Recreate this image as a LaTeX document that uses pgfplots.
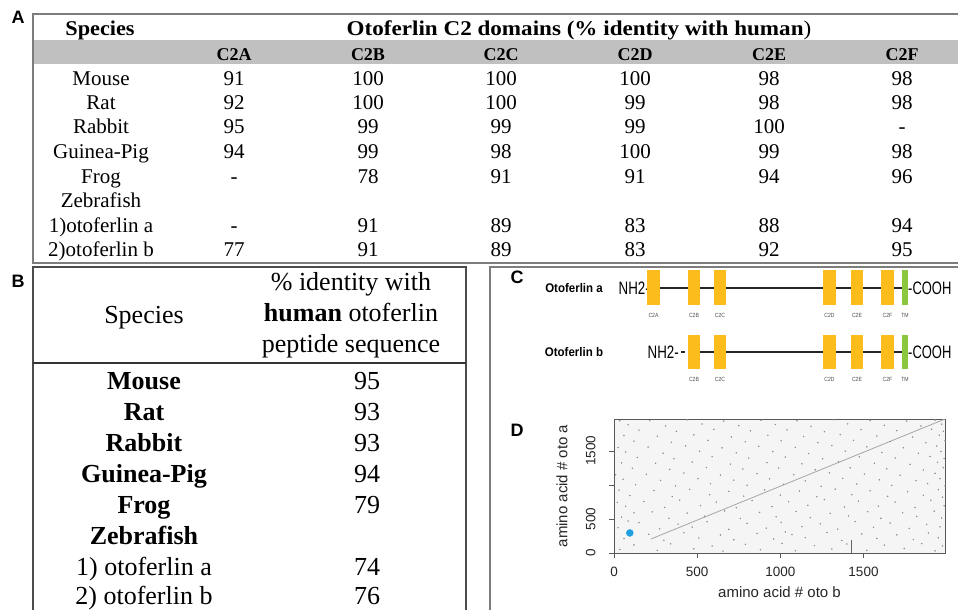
\documentclass[border=0pt]{standalone}
\usepackage{fontspec}
\setmainfont{Liberation Serif}
\newfontfamily\sansf{Liberation Sans}
\usepackage{pgfplots}
\pgfplotsset{compat=1.18}
\usepackage{graphicx}
\definecolor{dom}{RGB}{252,188,27}
\definecolor{tmc}{RGB}{141,198,63}
\definecolor{band}{RGB}{192,192,192}
\definecolor{frame}{RGB}{125,125,125}
\definecolor{dotblue}{RGB}{30,160,225}
\newcommand\fs[1]{\fontsize{#1}{#1}\selectfont}
\begin{document}
\begin{tikzpicture}
\useasboundingbox (0pt,0pt) rectangle (958pt,-610pt);
\begin{scope}[x=1pt,y=-1pt]
% ---------- Panel A ----------
\fill[band] (34,40) rectangle (958,64);
\draw[frame, line width=1.5pt] (958,14) -- (33,14) -- (33,263) -- (958,263);
\node[font={\fs{18}\sansf\bfseries}] at (18,17) {A};
\node[font={\fs{21}\bfseries}, anchor=base] at (100,36) {\scalebox{1.06}[1]{Species}};
\node[font={\fs{21}}, anchor=base] at (579,36) {\scalebox{1.1}[1]{\textbf{Otoferlin C2 domains (\% identity with human})}};
\foreach \x/\c in {234/C2A,368/C2B,501/C2C,635/C2D,769/C2E,902/C2F}
  \node[font={\fs{18}\bfseries}, anchor=base] at (\x,60) {\c};
\foreach \y/\n/\a/\b/\c/\d/\e/\f in {
  85/Mouse/91/100/100/100/98/98,
  109/Rat/92/100/100/99/98/98,
  133/Rabbit/95/99/99/99/100/-,
  158/Guinea-Pig/94/99/98/100/99/98,
  183/Frog/-/78/91/91/94/96,
  232/1)otoferlin a/-/91/89/83/88/94,
  256/2)otoferlin b/77/91/89/83/92/95}{
  \node[font={\fs{21}}, anchor=base] at (101,\y) {\n};
  \node[font={\fs{21}}, anchor=base] at (234,\y) {\a};
  \node[font={\fs{21}}, anchor=base] at (368,\y) {\b};
  \node[font={\fs{21}}, anchor=base] at (501,\y) {\c};
  \node[font={\fs{21}}, anchor=base] at (635,\y) {\d};
  \node[font={\fs{21}}, anchor=base] at (769,\y) {\e};
  \node[font={\fs{21}}, anchor=base] at (902,\y) {\f};
}
\node[font={\fs{21}}, anchor=base] at (101,207) {Zebrafish};
% ---------- Panel B ----------
\draw[black!70, line width=1.3pt] (33,615) -- (33,267) -- (466,267) -- (466,615);
\draw[black!80, line width=1.2pt] (33,363) -- (466,363);
\node[font={\fs{18}\sansf\bfseries}] at (18,281) {B};
\node[font={\fs{26}}, anchor=base] at (144,323) {Species};
\node[font={\fs{26}}, anchor=base] at (351,290) {\% identity with};
\node[font={\fs{26}}, anchor=base] at (351,321) {\textbf{human} otoferlin};
\node[font={\fs{26}}, anchor=base] at (351,352) {peptide sequence};
\foreach \y/\n/\v in {389/Mouse/95, 420/Rat/93, 451/Rabbit/93, 482/Guinea-Pig/94, 513/Frog/79}{
  \node[font={\fs{26}\bfseries}, anchor=base] at (144,\y) {\n};
  \node[font={\fs{26}}, anchor=base] at (367,\y) {\v};
}
\node[font={\fs{26}\bfseries}, anchor=base] at (144,544) {Zebrafish};
\node[font={\fs{26}}, anchor=base] at (144,575) {1) otoferlin a};
\node[font={\fs{26}}, anchor=base] at (367,575) {74};
\node[font={\fs{26}}, anchor=base] at (144,604) {2) otoferlin b};
\node[font={\fs{26}}, anchor=base] at (367,604) {76};
% ---------- Panel C / D frame ----------
\draw[frame, line width=1.5pt] (490,615) -- (490,267) -- (960,267);
\node[font={\fs{18}\sansf\bfseries}] at (517,277) {C};
\node[font={\fs{18}\sansf\bfseries}] at (517,430) {D};
% Otoferlin a
\node[font={\fs{12.5}\sansf\bfseries}] at (574,288) {\scalebox{0.92}[1]{Otoferlin a}};
\node[anchor=east, inner sep=0pt, font={\fs{18}\sansf}] at (650,288) {\scalebox{0.74}[1]{NH2-}};
\draw[black!85, line width=1.3pt] (649,288) -- (908,288);
\foreach \l/\r in {647/660, 688/700, 714/726, 823/836, 851/863, 881/894}
  \fill[dom] (\l,270) rectangle (\r,305);
\fill[tmc] (902,270) rectangle (908,305);
\node[anchor=west, inner sep=0pt, font={\fs{18}\sansf}] at (908,288) {\scalebox{0.72}[1]{-COOH}};
\foreach \x/\t in {653.5/C2A, 694/C2B, 720/C2C, 829.5/C2D, 857/C2E, 887.5/C2F, 905/TM}
  \node[font={\fs{6}\sansf}, text=black!70] at (\x,315) {\scalebox{0.85}[1]{\t}};
% Otoferlin b
\node[font={\fs{12.5}\sansf\bfseries}] at (574,352) {\scalebox{0.92}[1]{Otoferlin b}};
\node[anchor=east, inner sep=0pt, font={\fs{18}\sansf}] at (679,352) {\scalebox{0.74}[1]{NH2-}};
\draw[black!85, line width=1.3pt] (681,352) -- (685,352);
\draw[black!85, line width=1.3pt] (688,352) -- (908,352);
\foreach \l/\r in {688/700, 714/726, 823/836, 851/863, 881/894}
  \fill[dom] (\l,335) rectangle (\r,369);
\fill[tmc] (902,335) rectangle (908,369);
\node[anchor=west, inner sep=0pt, font={\fs{18}\sansf}] at (908,352) {\scalebox{0.72}[1]{-COOH}};
\foreach \x/\t in {694/C2B, 720/C2C, 829.5/C2D, 857/C2E, 887.5/C2F, 905/TM}
  \node[font={\fs{6}\sansf}, text=black!70] at (\x,379) {\scalebox{0.85}[1]{\t}};
\end{scope}
% ---------- Panel D ----------
\begin{axis}[
  at={(614pt,-553pt)}, anchor=south west,
  scale only axis, width=331pt, height=134pt,
  xmin=0, xmax=1990, ymin=0, ymax=1970,
  axis background/.style={fill=black!4},
  axis line style={black!65, line width=0.8pt},
  xtick={0,500,1000,1500}, xticklabels={0,500,1000,1500},
  ytick={0,500,1000,1500}, yticklabels={0,500,,1500},
  xtick pos=left, ytick pos=left,
  tick align=outside, major tick length=5pt,
  tick style={black!65, line width=0.8pt},
  tick label style={font={\fs{13.5}\sansf}, text=black!85},
  yticklabel style={rotate=90, anchor=south},
  xticklabel shift=6pt, yticklabel shift=10pt,
  xlabel={amino acid \# oto b}, ylabel={amino acid \# oto a},
  label style={font={\fs{15}\sansf}, text=black!85},
  xlabel style={at={(axis description cs:0.5,-0.295)}, anchor=center},
  ylabel style={at={(axis description cs:-0.157,0.5)}, anchor=center},
]
\addplot[only marks, mark=*, mark size=0.5pt, color=black!45] coordinates {
(35,52) (260,38) (480,61) (655,27) (880,49) (1090,33) (1310,58) (1520,41) (1745,66) (1930,30)
(120,118) (340,135) (590,102) (790,127) (1010,141) (1205,109) (1400,132) (1625,115) (1850,138) (1975,104)
(60,212) (300,188) (510,221) (720,195) (960,207) (1150,226) (1370,184) (1580,214) (1800,199) (1950,223)
(210,276) (420,298) (640,265) (860,289) (1070,271) (1280,302) (1490,281) (1700,268) (1890,294) (1030,310)
(25,372) (275,355) (470,381) (690,349) (915,366) (1130,388) (1345,352) (1560,377) (1775,361) (1960,384)
(150,447) (385,425) (560,459) (800,436) (1005,452) (1240,428) (1450,463) (1660,440) (1880,421) (85,470)
(45,528) (330,512) (545,541) (760,507) (975,533) (1180,519) (1410,546) (1605,511) (1820,537) (1970,515)
(230,604) (440,587) (665,619) (875,596) (1095,611) (1300,583) (1525,608) (1735,592) (1925,615) (120,590)
(70,688) (305,671) (520,697) (735,666) (950,683) (1165,702) (1385,675) (1590,690) (1810,668) (1985,694)
(180,757) (395,778) (615,748) (830,771) (1050,754) (1265,785) (1470,762) (1690,750) (1905,776) (20,742)
(95,845) (350,829) (575,858) (780,836) (1000,851) (1220,827) (1430,856) (1645,833) (1860,849) (1975,820)
(240,918) (455,935) (690,905) (905,929) (1115,911) (1330,938) (1540,916) (1765,902) (1950,931) (30,925)
(130,1004) (370,987) (580,1019) (800,996) (1020,1010) (1245,982) (1460,1013) (1670,994) (1885,1021) (1990,988)
(55,1085) (280,1067) (505,1094) (720,1072) (935,1089) (1150,1061) (1375,1098) (1595,1076) (1815,1064) (1960,1092)
(195,1157) (420,1175) (640,1146) (860,1168) (1080,1152) (1295,1179) (1505,1161) (1720,1144) (1930,1172) (10,1150)
(110,1246) (335,1228) (555,1257) (775,1235) (990,1249) (1210,1224) (1420,1253) (1640,1238) (1860,1221) (1980,1255)
(250,1318) (470,1337) (700,1307) (920,1329) (1130,1312) (1350,1341) (1565,1320) (1780,1304) (1945,1332) (45,1326)
(140,1405) (360,1387) (590,1416) (810,1395) (1030,1410) (1255,1383) (1475,1414) (1690,1397) (1900,1419) (1985,1389)
(70,1486) (295,1468) (515,1496) (735,1473) (955,1490) (1170,1462) (1390,1498) (1610,1477) (1830,1465) (1965,1493)
(205,1557) (430,1576) (650,1546) (870,1569) (1090,1553) (1310,1580) (1520,1561) (1740,1547) (1940,1572) (25,1550)
(120,1645) (345,1628) (565,1657) (790,1636) (1005,1650) (1225,1624) (1440,1655) (1660,1638) (1875,1622) (1990,1653)
(260,1718) (480,1737) (705,1706) (925,1730) (1140,1713) (1360,1741) (1580,1720) (1795,1705) (1955,1733) (60,1727)
(150,1806) (375,1788) (600,1817) (820,1796) (1040,1811) (1265,1784) (1485,1815) (1700,1798) (1910,1820) (1980,1790)
(85,1886) (310,1868) (530,1897) (750,1874) (970,1890) (1185,1863) (1405,1899) (1625,1877) (1845,1866) (1970,1894)
(215,1947) (440,1958) (660,1940) (885,1952) (1100,1944) (1320,1960) (1540,1948) (1760,1939) (1930,1955) (35,1943)
};
\addplot[black!35, line width=0.8pt] coordinates {(222,206) (1990,1970)};
\addplot[black!60, line width=0.8pt] coordinates {(1430,0) (1430,190)};
\addplot[only marks, mark=*, mark size=3.5pt, color=dotblue] coordinates {(95,295)};
\end{axis}
\end{tikzpicture}
\end{document}
